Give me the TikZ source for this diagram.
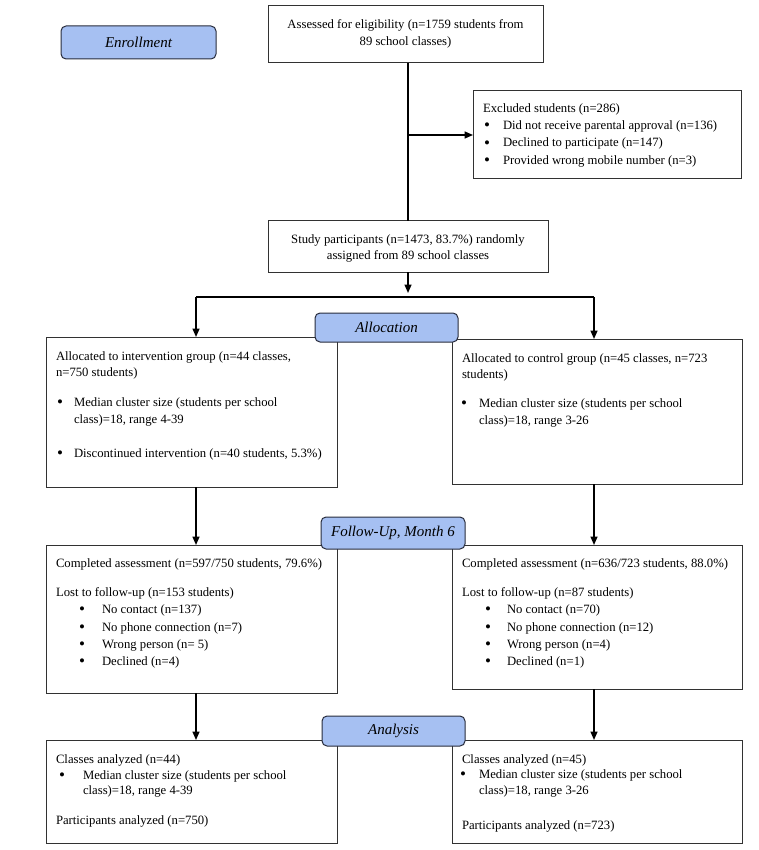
\documentclass[tikz,border=0pt]{standalone}
\usepackage{fontspec}
\setmainfont{Liberation Serif}
\usetikzlibrary{arrows.meta,calc}
\definecolor{lblfill}{RGB}{166,192,242}
\definecolor{lbldraw}{RGB}{40,44,60}
\definecolor{boxdraw}{RGB}{50,50,50}
\newcommand\tline[4]{\node[txt,anchor=base west] (#1) at (#2,#3) {#4};}
\newcommand\ctrline[4]{\node[txt,anchor=base] (#1) at (#2,#3) {#4};}
\newcommand\bigbul{\hspace*{-1pt}\raisebox{-1.1pt}{\fontsize{17}{17}\selectfont\textbullet}}
\newcommand\bline[5]{\node[txt,anchor=base west] (#1) at (#2,#4) {\makebox[\dimexpr#3pt-#2pt\relax][l]{\bigbul}#5};}
\begin{document}
\begin{tikzpicture}[x=1pt,y=-1pt,
  txt/.style={inner sep=0pt,outer sep=0pt,yshift=-1.5pt,font=\fontsize{12.7}{15}\selectfont},
  box/.style={draw=boxdraw,line width=1pt,fill=white,inner sep=0pt,outer sep=0pt},
  lbl/.style={draw=lbldraw,line width=1pt,fill=lblfill,rounded corners=5pt,inner sep=0pt,outer sep=0pt,font=\fontsize{15}{18}\selectfont\itshape},
  conn/.style={line width=1.5pt,black},
  arr/.style={conn,-{Triangle[length=8.5pt,width=7pt]}}]
\useasboundingbox (0,0) rectangle (758,850);
% boxes
\node[box,minimum width=275,minimum height=57] (assess) at (405.5,34.5) {};
\node[box,minimum width=268,minimum height=88] (excl) at (607,135) {};
\node[box,minimum width=280,minimum height=51] (study) at (408,246.5) {};
\node[box,minimum width=291,minimum height=150] (lalloc) at (191.5,412) {};
\node[box,minimum width=290,minimum height=145] (ralloc) at (597,411.5) {};
\node[box,minimum width=291,minimum height=148] (lfu) at (191.5,619) {};
\node[box,minimum width=290,minimum height=144] (rfu) at (597,617) {};
\node[box,minimum width=291,minimum height=103] (lana) at (191.5,791.5) {};
\node[box,minimum width=290,minimum height=103] (rana) at (597,791.5) {};
% connector columns
\coordinate (lx) at (196,0);
\coordinate (rx) at (594,0);
\coordinate (split) at (408,297);
% connectors
\draw[conn] (assess.south -| study.north) -- (study.north);
\draw[arr] (study.north |- excl.west) -- (excl.west);
\draw[arr,shorten >=4pt] (study.south) -- (split);
\draw[conn] (split -| lx) -- (split -| rx);
\draw[arr] (split -| lx) -- (lalloc.north -| lx);
\draw[arr] (split -| rx) -- (ralloc.north -| rx);
\draw[arr] (lalloc.south -| lx) -- (lfu.north -| lx);
\draw[arr] (ralloc.south -| rx) -- (rfu.north -| rx);
\draw[arr] (lfu.south -| lx) -- (lana.north -| lx);
\draw[arr] (rfu.south -| rx) -- (rana.north -| rx);
% texts
\ctrline{a1}{405.5}{27}{Assessed for eligibility (n=1759 students from}
\ctrline{a2}{405.5}{44}{89 school classes)}
\tline{e1}{483}{111}{Excluded students (n=286)}
\bline{e2}{485}{503}{128}{Did not receive parental approval (n=136)}
\bline{e3}{485}{503}{145.5}{Declined to participate (n=147)}
\bline{e4}{485}{503}{163}{Provided wrong mobile number (n=3)}
\ctrline{s1}{408}{242}{Study participants (n=1473, 83.7\%) randomly}
\ctrline{s2}{408}{258}{assigned from 89 school classes}
% left allocation
\tline{la1}{56}{359}{Allocated to intervention group (n=44 classes,}
\tline{la2}{56}{375}{n=750 students)}
\bline{la3}{58}{74}{405}{Median cluster size (students per school}
\tline{la4}{74}{422}{class)=18, range 4-39}
\bline{la5}{58}{74}{456}{Discontinued intervention (n=40 students, 5.3\%)}
% right allocation
\tline{ra1}{462}{361}{Allocated to control group (n=45 classes, n=723}
\tline{ra2}{462}{377}{students)}
\bline{ra3}{462}{479}{406}{Median cluster size (students per school}
\tline{ra4}{479}{423}{class)=18, range 3-26}
% left follow-up
\tline{lf1}{56}{566}{Completed assessment (n=597/750 students, 79.6\%)}
\tline{lf2}{56}{595}{Lost to follow-up (n=153 students)}
\bline{lf3}{80}{102}{612}{No contact (n=137)}
\bline{lf4}{80}{102}{630}{No phone connection (n=7)}
\bline{lf5}{80}{102}{647}{Wrong person (n= 5)}
\bline{lf6}{80}{102}{664}{Declined (n=4)}
% right follow-up
\tline{rf1}{462}{566}{Completed assessment (n=636/723 students, 88.0\%)}
\tline{rf2}{462}{595}{Lost to follow-up (n=87 students)}
\bline{rf3}{486}{507}{612}{No contact (n=70)}
\bline{rf4}{486}{507}{630}{No phone connection (n=12)}
\bline{rf5}{486}{507}{647}{Wrong person (n=4)}
\bline{rf6}{486}{507}{664}{Declined (n=1)}
% left analysis
\tline{ln1}{56}{762}{Classes analyzed (n=44)}
\bline{ln2}{60}{83}{778}{Median cluster size (students per school}
\tline{ln3}{83}{793}{class)=18, range 4-39}
\tline{ln4}{56}{823}{Participants analyzed (n=750)}
% right analysis
\tline{rn1}{462}{762}{Classes analyzed (n=45)}
\bline{rn2}{461}{479}{777}{Median cluster size (students per school}
\tline{rn3}{479}{793}{class)=18, range 3-26}
\tline{rn4}{462}{828}{Participants analyzed (n=723)}
% stage labels
\node[lbl,minimum width=155,minimum height=33] (enroll) at (138.5,42.5) {Enrollment};
\node[lbl,minimum width=143,minimum height=29] (alloc) at (386.5,327.5) {Allocation};
\node[lbl,minimum width=144,minimum height=32] (fu) at (393,533) {Follow-Up, Month 6};
\node[lbl,minimum width=143,minimum height=30] (ana) at (393.5,731) {Analysis};
\end{tikzpicture}
\end{document}
